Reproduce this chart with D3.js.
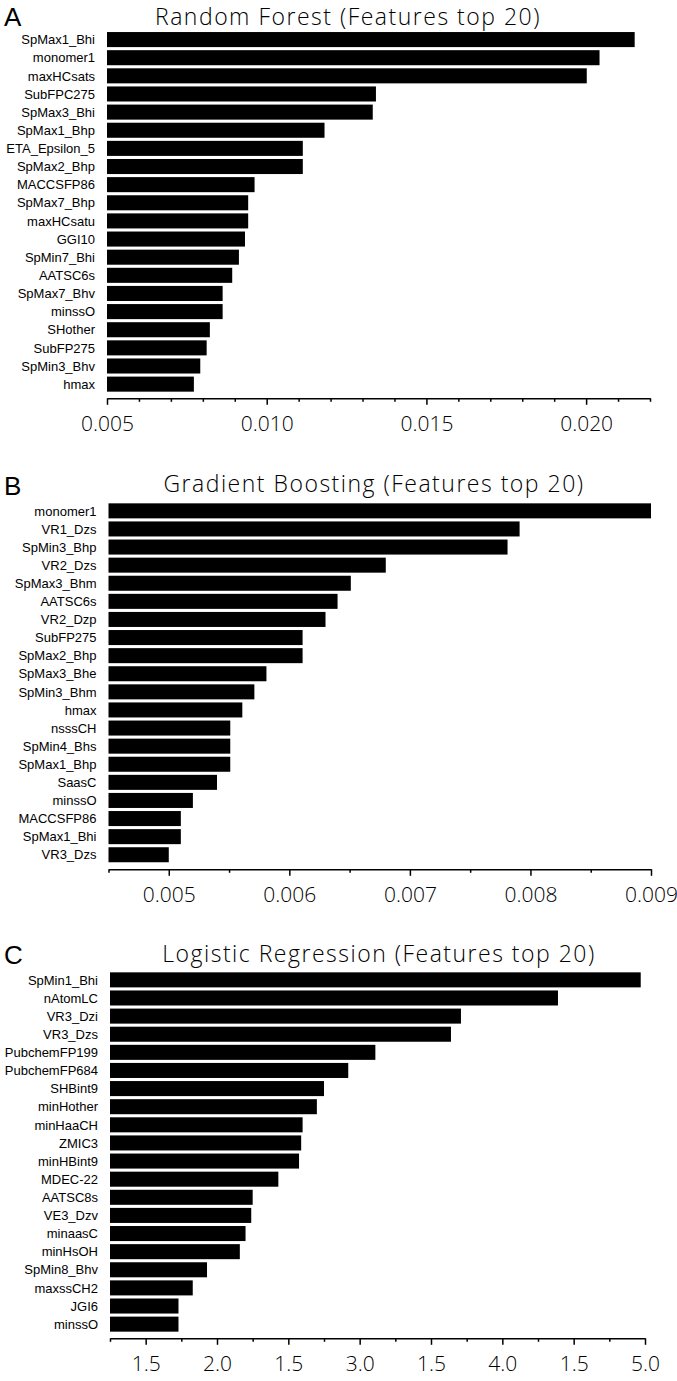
<!DOCTYPE html>
<html>
<head>
<meta charset="utf-8">
<script src="https://cdn.jsdelivr.net/npm/d3@7"></script>
<style>
  html, body { margin: 0; padding: 0; background: #fff; }
  svg { display: block; }
</style>
</head>
<body>
<script>
// ---------------- Data ----------------
const rfFeatures = ["SpMax1_Bhi","monomer1","maxHCsats","SubFPC275","SpMax3_Bhi","SpMax1_Bhp","ETA_Epsilon_5","SpMax2_Bhp","MACCSFP86","SpMax7_Bhp","maxHCsatu","GGI10","SpMin7_Bhi","AATSC6s","SpMax7_Bhv","minssO","SHother","SubFP275","SpMin3_Bhv","hmax"];
const rfValues = [0.02152,0.02042,0.02002,0.01342,0.01332,0.01181,0.01113,0.01113,0.00962,0.00942,0.00942,0.00932,0.00913,0.00892,0.00862,0.00862,0.00822,0.00812,0.00792,0.00772];
const rfTickValues = [0.005,0.010,0.015,0.020];
const rfTickLabels = ["0.005","0.010","0.015","0.020"];

const gbFeatures = ["monomer1","VR1_Dzs","SpMin3_Bhp","VR2_Dzs","SpMax3_Bhm","AATSC6s","VR2_Dzp","SubFP275","SpMax2_Bhp","SpMax3_Bhe","SpMin3_Bhm","hmax","nsssCH","SpMin4_Bhs","SpMax1_Bhp","SaasC","minssO","MACCSFP86","SpMax1_Bhi","VR3_Dzs"];
const gbValues = [0.00900,0.00791,0.00781,0.00680,0.00651,0.00640,0.00630,0.00611,0.00611,0.00581,0.00571,0.00561,0.00551,0.00551,0.00551,0.00540,0.00520,0.00510,0.00510,0.00500];
const gbTickValues = [0.005,0.006,0.007,0.008,0.009];
const gbTickLabels = ["0.005","0.006","0.007","0.008","0.009"];

const lrFeatures = ["SpMin1_Bhi","nAtomLC","VR3_Dzi","VR3_Dzs","PubchemFP199","PubchemFP684","SHBint9","minHother","minHaaCH","ZMIC3","minHBint9","MDEC-22","AATSC8s","VE3_Dzv","minaasC","minHsOH","SpMin8_Bhv","maxssCH2","JGI6","minssO"];
const lrValues = [4.97,4.39,3.71,3.64,3.11,2.92,2.75,2.70,2.60,2.59,2.575,2.43,2.25,2.24,2.20,2.16,1.93,1.83,1.73,1.73];
const lrTickValues = [1.5,2.0,2.5,3.0,3.5,4.0,4.5,5.0];
const lrTickLabels = ["1.5","2.0","1.5","3.0","1.5","4.0","1.5","5.0"];

const panels = [
  { letter: "A", title: "Random Forest (Features top 20)", features: rfFeatures, values: rfValues,
    domain: [0.005, 0.022], minorStep: 0.001, ticks: rfTickValues, labels: rfTickLabels,
    x0: 107, x1: 650, top: 30.5, bottom: 393.2, axisY: 398.3,
    titleX: 348, titleY: 25, letterY: 26, tickLabelY: 431 },
  { letter: "B", title: "Gradient Boosting (Features top 20)", features: gbFeatures, values: gbValues,
    domain: [0.0045, 0.009], minorStep: 0.0005, ticks: gbTickValues, labels: gbTickLabels,
    x0: 108.5, x1: 651, top: 501.8, bottom: 863.8, axisY: 869.3,
    titleX: 374, titleY: 492, letterY: 495, tickLabelY: 902 },
  { letter: "C", title: "Logistic Regression (Features top 20)", features: lrFeatures, values: lrValues,
    domain: [1.25, 5.0], minorStep: 0.25, ticks: lrTickValues, labels: lrTickLabels,
    x0: 110, x1: 645, top: 970.8, bottom: 1333.2, axisY: 1338.3,
    titleX: 379, titleY: 962, letterY: 964, tickLabelY: 1371 }
];

const W = 677, H = 1381;
const svg = d3.select("body").append("svg").attr("width", W).attr("height", H);

const titleFont = "'Open Sans', 'Noto Sans', sans-serif";
const tickFont = "'Open Sans', 'Noto Sans', sans-serif";
const labelFont = "'Liberation Sans', Arial, sans-serif";

panels.forEach(p => {
  const g = svg.append("g");
  const x = d3.scaleLinear().domain(p.domain).range([p.x0, p.x1]);
  const y = d3.scaleBand().domain(p.features).range([p.top, p.bottom]).paddingInner(0.17).paddingOuter(0.085);

  // panel letter
  g.append("text").attr("x", 4).attr("y", p.letterY)
    .attr("font-family", labelFont).attr("font-size", 26).attr("fill", "#000").text(p.letter);

  // title
  g.append("text").attr("x", p.titleX).attr("y", p.titleY).attr("text-anchor", "middle")
    .attr("font-family", titleFont).attr("font-weight", 300).attr("font-size", 23)
    .attr("letter-spacing", 1.5).attr("fill", "#000").text(p.title);

  // bars
  g.selectAll("rect.bar").data(p.features.map((f, i) => ({ f, v: p.values[i] })))
    .enter().append("rect").attr("class", "bar")
    .attr("x", x(p.domain[0]))
    .attr("y", d => y(d.f))
    .attr("width", d => x(d.v) - x(p.domain[0]))
    .attr("height", y.bandwidth())
    .attr("fill", "#000");

  // category labels
  g.selectAll("text.cat").data(p.features).enter().append("text").attr("class", "cat")
    .attr("x", p.x0 - 12)
    .attr("y", d => y(d) + y.bandwidth() / 2)
    .attr("dy", "0.36em")
    .attr("text-anchor", "end")
    .attr("font-family", labelFont).attr("font-size", 13).attr("fill", "#000")
    .text(d => d);

  // minor ticks
  const n = Math.round((p.domain[1] - p.domain[0]) / p.minorStep);
  const minor = d3.range(n + 1).map(i => +(p.domain[0] + i * p.minorStep).toFixed(6))
    .filter(v => !p.ticks.some(t => Math.abs(t - v) < 1e-9));
  const minorAxis = d3.axisBottom(x).tickValues(minor).tickSize(3.5).tickSizeOuter(0).tickFormat("");
  const ga = g.append("g").attr("transform", `translate(0,${p.axisY})`).call(minorAxis);
  ga.select(".domain").attr("stroke", "#000").attr("stroke-width", 1.6);
  ga.selectAll(".tick line").attr("stroke", "#000").attr("stroke-width", 1.5);

  // major ticks
  const majorAxis = d3.axisBottom(x).tickValues(p.ticks).tickSize(6.5).tickSizeOuter(0)
    .tickFormat((d, i) => p.labels[i]);
  const gm = g.append("g").attr("transform", `translate(0,${p.axisY})`).call(majorAxis);
  gm.select(".domain").remove();
  gm.selectAll(".tick line").attr("stroke", "#000").attr("stroke-width", 1.5);
  gm.selectAll(".tick text")
    .attr("y", p.tickLabelY - p.axisY).attr("dy", 0)
    .attr("font-family", tickFont).attr("font-weight", 300).attr("font-size", 21).attr("fill", "#000");
});
</script>
</body>
</html>
